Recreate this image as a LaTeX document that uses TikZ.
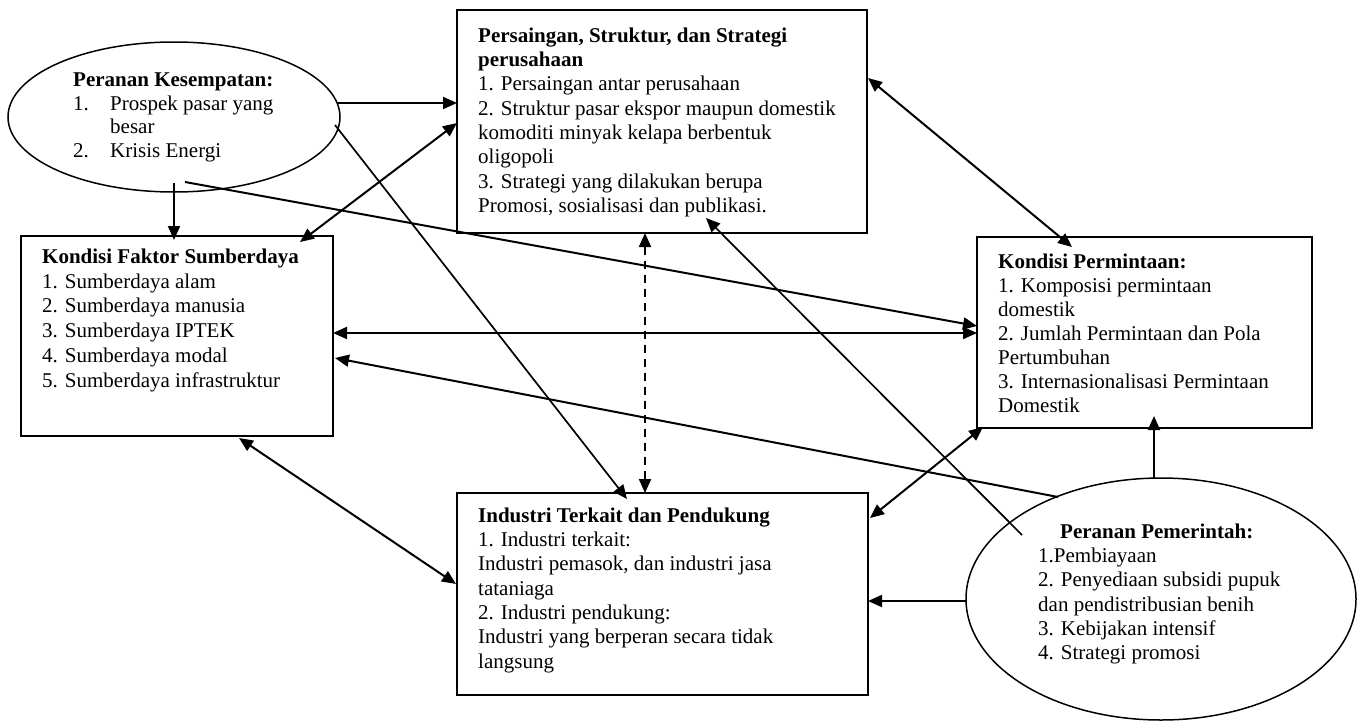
\documentclass[tikz,border=0pt]{standalone}
\usepackage{fontspec}
\setmainfont{Liberation Serif}
\usetikzlibrary{arrows.meta,shapes.geometric,calc}
\tikzset{
  boxnode/.style={draw, line width=1.8pt, rectangle, inner sep=0pt},
  ovalnode/.style={draw, line width=1.5pt, ellipse, inner sep=0pt},
  txt/.style={anchor=north west, align=left, inner sep=0pt, font=\fontsize{21}{24.3}\selectfont},
  conn/.style={line width=2pt, -{Triangle[length=14pt,width=12pt]}},
  dconn/.style={line width=2pt, {Triangle[length=14pt,width=12pt]}-{Triangle[length=14pt,width=12pt]}},
  thinconn/.style={line width=1.7pt, -{Triangle[length=14pt,width=12pt]}},
  dashconn/.style={line width=2pt, dash pattern=on 8pt off 6pt, {Triangle[length=14pt,width=12pt]}-{Triangle[length=14pt,width=12pt]}}
}
\begin{document}
\begin{tikzpicture}[x=1pt,y=-1pt]
\useasboundingbox (0,0) rectangle (1362,720);
% shapes
\node[ovalnode, minimum width=332pt, minimum height=150pt] (ks) at (174,117) {};
\node[boxnode, minimum width=410pt, minimum height=223pt] (ps) at (662,121.5) {};
\node[boxnode, minimum width=312pt, minimum height=200pt] (kf) at (177,336) {};
\node[boxnode, minimum width=335pt, minimum height=191pt] (kp) at (1144.5,332.5) {};
\node[boxnode, minimum width=411pt, minimum height=202pt] (ind) at (662.5,594) {};
\node[ovalnode, minimum width=390pt, minimum height=242pt] (pp) at (1161,599) {};
% texts
\node[txt, font=\fontsize{21}{23.6}\selectfont] (kst) at (73,72.5) {\textbf{Peranan Kesempatan:}\\\makebox[37pt][l]{1.}Prospek pasar yang\\\hspace*{37pt}besar\\\makebox[37pt][l]{2.}Krisis Energi};
\node[txt] (pst) at (478,27.5) {\textbf{Persaingan, Struktur, dan Strategi}\\\textbf{perusahaan}\\1. Persaingan antar perusahaan\\2. Struktur pasar ekspor maupun domestik\\komoditi minyak kelapa berbentuk\\oligopoli\\3. Strategi yang dilakukan berupa\\Promosi, sosialisasi dan publikasi.};
\node[txt, font=\fontsize{21}{24.8}\selectfont] (kft) at (42,248.5) {\textbf{Kondisi Faktor Sumberdaya}\\1. Sumberdaya alam\\2. Sumberdaya manusia\\3. Sumberdaya IPTEK\\4. Sumberdaya modal\\5. Sumberdaya infrastruktur};
\node[txt, font=\fontsize{21}{24}\selectfont] (kpt) at (998,253.5) {\textbf{Kondisi Permintaan:}\\1. Komposisi permintaan\\domestik\\2. Jumlah Permintaan dan Pola\\Pertumbuhan\\3. Internasionalisasi Permintaan\\Domestik};
\node[txt] (indt) at (478,507.5) {\textbf{Industri Terkait dan Pendukung}\\1. Industri terkait:\\Industri pemasok, dan industri jasa\\tataniaga\\2. Industri pendukung:\\Industri yang berperan secara tidak\\langsung};
\node[txt] (ppt) at (1038,523.5) {\hspace*{22pt}\textbf{Peranan Pemerintah:}\\1.Pembiayaan\\2. Penyediaan subsidi pupuk\\dan pendistribusian benih\\3. Kebijakan intensif\\4. Strategi promosi};
% connectors
\draw[conn] ($(ks.center)+(164,-14)$) -- ($(ps.center)+(-205,-18.5)$);
\draw[conn] ($(ks.center)+(0,66)$) -- ($(kf.center)+(-3,-96)$);
\draw[dconn] ($(kf.center)+(123,-94)$) -- ($(ps.center)+(-205,1.5)$);
\draw[thinconn] ($(ks.center)+(161,8)$) -- ($(ind.center)+(-35.5,-95)$);
\draw[conn] ($(ks.center)+(11,65)$) -- ($(kp.center)+(-167.5,-6.5)$);
\draw[dconn] ($(kf.center)+(156,-3)$) -- ($(kp.center)+(-167.5,0.5)$);
\draw[dashconn] ($(ps.center)+(-17,111.5)$) -- ($(ind.center)+(-17.5,-101)$);
\draw[dconn] ($(ps.center)+(206,-43.5)$) -- ($(kp.center)+(-72.5,-85.5)$);
\draw[thinconn] ($(pp.center)+(-139,-64)$) -- ($(ps.center)+(44,96.5)$);
\draw[conn] ($(pp.center)+(-103,-102)$) -- ($(kf.center)+(158,22)$);
\draw[dconn] ($(kf.center)+(62,102)$) -- ($(ind.center)+(-206.5,-10)$);
\draw[dconn] ($(ind.center)+(207.5,-76)$) -- ($(kp.center)+(-161.5,94.5)$);
\draw[conn] ($(pp.center)+(-194,2)$) -- ($(ind.center)+(205.5,7)$);
\draw[conn] ($(pp.center)+(-7,-121)$) -- ($(kp.center)+(9.5,83.5)$);
\end{tikzpicture}
\end{document}
